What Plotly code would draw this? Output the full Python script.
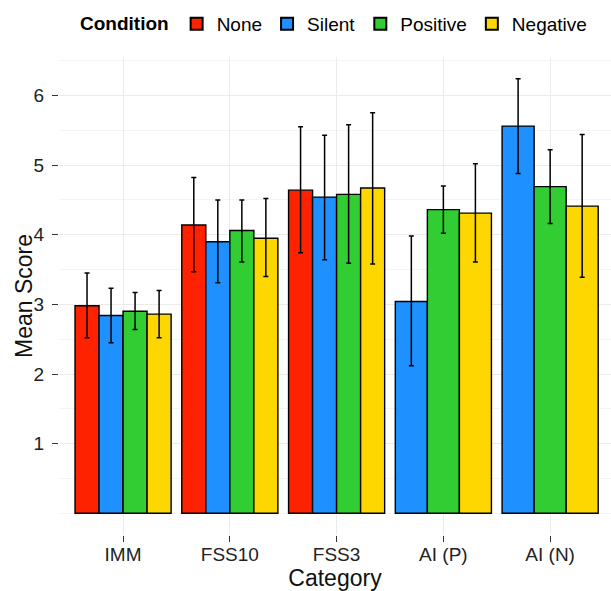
import plotly.graph_objects as go

categories = ["IMM", "FSS10", "FSS3", "AI (P)", "AI (N)"]
conditions = ["None", "Silent", "Positive", "Negative"]
colors = ["#FF2200", "#1E90FF", "#32CD32", "#FFD700"]

# mean scores per condition (None = condition not measured)
mean_none = [2.98, 4.14, 4.64, None, None]
mean_silent = [2.84, 3.90, 4.54, 3.04, 5.56]
mean_positive = [2.90, 4.06, 4.58, 4.36, 4.69]
mean_negative = [2.86, 3.95, 4.67, 4.31, 4.41]

# error bar upper / lower limits
upper_none = [3.45, 4.82, 5.55, None, None]
upper_silent = [3.23, 4.50, 5.43, 3.98, 6.24]
upper_positive = [3.17, 4.50, 5.58, 4.70, 5.22]
upper_negative = [3.20, 4.52, 5.75, 5.02, 5.44]

lower_none = [2.52, 3.47, 3.74, None, None]
lower_silent = [2.45, 3.31, 3.64, 2.12, 4.88]
lower_positive = [2.64, 3.61, 3.59, 4.02, 4.16]
lower_negative = [2.52, 3.40, 3.58, 3.61, 3.39]

y_ticks = [1, 2, 3, 4, 5, 6]

means = [mean_none, mean_silent, mean_positive, mean_negative]
uppers = [upper_none, upper_silent, upper_positive, upper_negative]
lowers = [lower_none, lower_silent, lower_positive, lower_negative]

dodge = 0.9
n_cat = len(categories)
present = [[k for k in range(len(conditions)) if means[k][i] is not None] for i in range(n_cat)]

FONT = "Liberation Sans, Arial, Helvetica, sans-serif"

fig = go.Figure()
for k, cond in enumerate(conditions):
    widths, offsets, ys, xs, ep, em = [], [], [], [], [], []
    for i, cat in enumerate(categories):
        m = means[k][i]
        if m is None:
            continue
        n = len(present[i])
        w = dodge / n
        r = present[i].index(k)
        xs.append(cat)
        ys.append(m)
        widths.append(w)
        offsets.append(-dodge / 2 + r * w)
        ep.append(uppers[k][i] - m)
        em.append(m - lowers[k][i])
    fig.add_trace(go.Bar(
        x=xs, y=ys, name=cond, width=widths, offset=offsets,
        marker=dict(color=colors[k], line=dict(color="black", width=1.4)),
        error_y=dict(type="data", symmetric=False, array=ep, arrayminus=em,
                     color="black", thickness=1.5, width=2.5),
    ))

fig.update_layout(
    width=611, height=591,
    barmode="overlay",
    paper_bgcolor="white", plot_bgcolor="white",
    margin=dict(l=59, r=0, t=57, b=56),
    font=dict(family=FONT, size=19, color="#222222"),
    showlegend=True,
    legend=dict(
        orientation="h", x=0.5, xanchor="center", y=1.069, yanchor="middle",
        title=dict(text="<b>Condition</b>", font=dict(size=19, color="black")),
        font=dict(size=19, color="black"),
        itemsizing="constant", traceorder="normal",
        itemclick=False, bgcolor="rgba(0,0,0,0)",
    ),
    xaxis=dict(
        type="category", categoryorder="array", categoryarray=categories,
        range=[-0.6, 4.57],
        showgrid=True, gridcolor="#EBEBEB", gridwidth=1,
        ticks="outside", ticklen=6, tickcolor="#333333", tickwidth=1,
        ticklabelstandoff=-4,
        showline=False, zeroline=False,
        tickfont=dict(size=19, color="#222222"),
        title=dict(text="Category", font=dict(size=23, color="#111111"), standoff=2),
        automargin=False,
    ),
    yaxis=dict(
        range=[-0.312, 6.552],
        tickvals=y_ticks, ticktext=[str(v) for v in y_ticks],
        showgrid=True, gridcolor="#EBEBEB", gridwidth=1,
        minor=dict(dtick=0.5, tick0=0, showgrid=True, gridcolor="#F4F4F4", gridwidth=1, ticks=""),
        ticks="outside", ticklen=6, tickcolor="#333333", tickwidth=1,
        ticklabelstandoff=4,
        showline=False, zeroline=False,
        tickfont=dict(size=19, color="#222222"),
        automargin=False,
    ),
    annotations=[dict(
        text="Mean Score", xref="paper", yref="paper",
        x=(24 - 59) / 552, y=0.5, xanchor="center", yanchor="middle",
        textangle=-90, showarrow=False, font=dict(size=23, color="#111111"),
    )],
)

fig.write_html("out.html", config={"displayModeBar": False},
               post_script="document.body.style.margin='0';")
